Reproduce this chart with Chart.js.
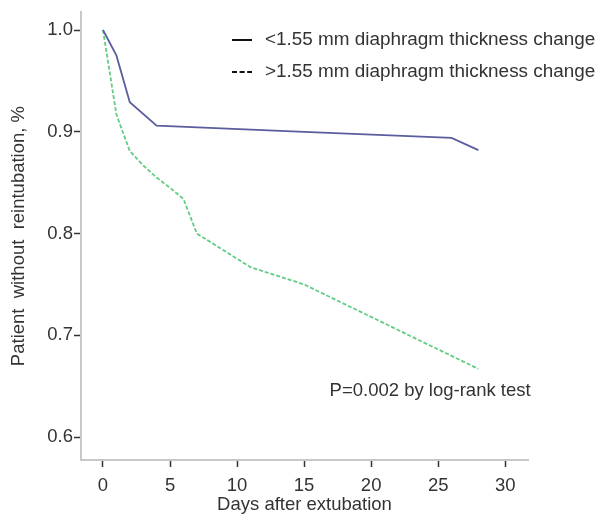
<!DOCTYPE html>
<html>
<head>
<meta charset="utf-8">
<script src="https://cdn.jsdelivr.net/npm/chart.js@4.4.1/dist/chart.umd.min.js"></script>
<style>
  html, body { margin: 0; padding: 0; background: #ffffff; }
  #wrap { width: 599px; height: 521px; position: relative; }
</style>
</head>
<body>
<div id="wrap"><canvas id="c"></canvas></div>
<script>
// ---- data ----
const thinDays   = [0, 1, 2, 4, 15, 26, 28];
const thinValues = [1.0, 0.975, 0.929, 0.906, 0.900, 0.894, 0.882];

const thickDays   = [0, 1, 2, 3, 4, 5, 6, 7, 11, 15, 28];
const thickValues = [1.0, 0.917, 0.881, 0.867, 0.855, 0.845, 0.834, 0.800, 0.767, 0.750, 0.667];

const seriesLabels = ['<1.55 mm diaphragm thickness change', '>1.55 mm diaphragm thickness change'];
const xTicks = [0, 5, 10, 15, 20, 25, 30];
const yTicks = [0.6, 0.7, 0.8, 0.9, 1.0];
const pValueText = 'P=0.002 by log-rank test';
const pValuePos = [16.9, 0.645];

const FONT = '"Liberation Sans", Arial, Helvetica, sans-serif';
const TXT = '#333333';

const toPoints = (xs, ys) => xs.map((x, i) => ({ x: x, y: ys[i] }));

const overlayPlugin = {
  id: 'overlay',
  afterDraw(chart) {
    const ctx = chart.ctx;
    ctx.save();
    // legend
    ctx.font = '18.9px ' + FONT;
    ctx.textBaseline = 'middle';
    ctx.textAlign = 'left';
    const rows = [40, 72];
    const dashes = [[], [5, 2.6]];
    seriesLabels.forEach((lab, i) => {
      ctx.beginPath();
      ctx.setLineDash(dashes[i]);
      ctx.strokeStyle = '#111111';
      ctx.lineWidth = 2;
      ctx.moveTo(232, rows[i]);
      ctx.lineTo(252, rows[i]);
      ctx.stroke();
      ctx.setLineDash([]);
      ctx.fillStyle = TXT;
      ctx.fillText(lab, 265, rows[i]);
    });
    // p-value annotation
    const xs = chart.scales.x, ys = chart.scales.y;
    ctx.font = '18.5px ' + FONT;
    ctx.fillStyle = TXT;
    ctx.fillText(pValueText, xs.getPixelForValue(pValuePos[0]), ys.getPixelForValue(pValuePos[1]));
    ctx.restore();
  }
};

new Chart(document.getElementById('c'), {
  type: 'line',
  data: {
    datasets: [
      {
        label: seriesLabels[0],
        data: toPoints(thinDays, thinValues),
        borderColor: '#5a5e9e',
        borderWidth: 1.8,
        pointRadius: 0,
        tension: 0,
        fill: false
      },
      {
        label: seriesLabels[1],
        data: toPoints(thickDays, thickValues),
        borderColor: '#62cc84',
        borderWidth: 1.8,
        borderDash: [4, 2],
        pointRadius: 0,
        tension: 0,
        fill: false
      }
    ]
  },
  options: {
    responsive: true,
    maintainAspectRatio: false,
    animation: false,
    layout: { padding: { top: 10, right: 71, left: 0, bottom: 0 } },
    plugins: {
      legend: { display: false },
      tooltip: { enabled: false },
      title: { display: false }
    },
    scales: {
      x: {
        type: 'linear',
        min: -1.64,
        max: 31.7,
        afterBuildTicks: (s) => { s.ticks = xTicks.map(v => ({ value: v })); },
        afterFit: (s) => { s.height = 61; },
        border: { display: true, color: '#c8c8c8', width: 2 },
        grid: { drawOnChartArea: false, drawTicks: true, tickLength: 7, tickColor: '#333333', tickWidth: 1.5 },
        ticks: { color: TXT, font: { family: FONT, size: 18.5 }, padding: 8, maxRotation: 0, autoSkip: false },
        title: { display: true, text: 'Days after extubation', color: TXT, font: { family: FONT, size: 18.5 }, padding: { top: 0, bottom: 5 } }
      },
      y: {
        type: 'linear',
        min: 0.5775,
        max: 1.0176,
        afterBuildTicks: (s) => { s.ticks = yTicks.map(v => ({ value: v })); },
        afterFit: (s) => { s.width = 81; },
        border: { display: true, color: '#c8c8c8', width: 2 },
        grid: { drawOnChartArea: false, drawTicks: true, tickLength: 7, tickColor: '#333333', tickWidth: 1.5 },
        ticks: { color: TXT, font: { family: FONT, size: 18.5 }, padding: 1, autoSkip: false, callback: (v) => Number(v).toFixed(1) },
        title: { display: true, text: 'Patient  without  reintubation, %', color: TXT, font: { family: FONT, size: 18.5 }, padding: { top: 8, bottom: 0 } }
      }
    }
  },
  plugins: [overlayPlugin]
});
</script>
</body>
</html>
